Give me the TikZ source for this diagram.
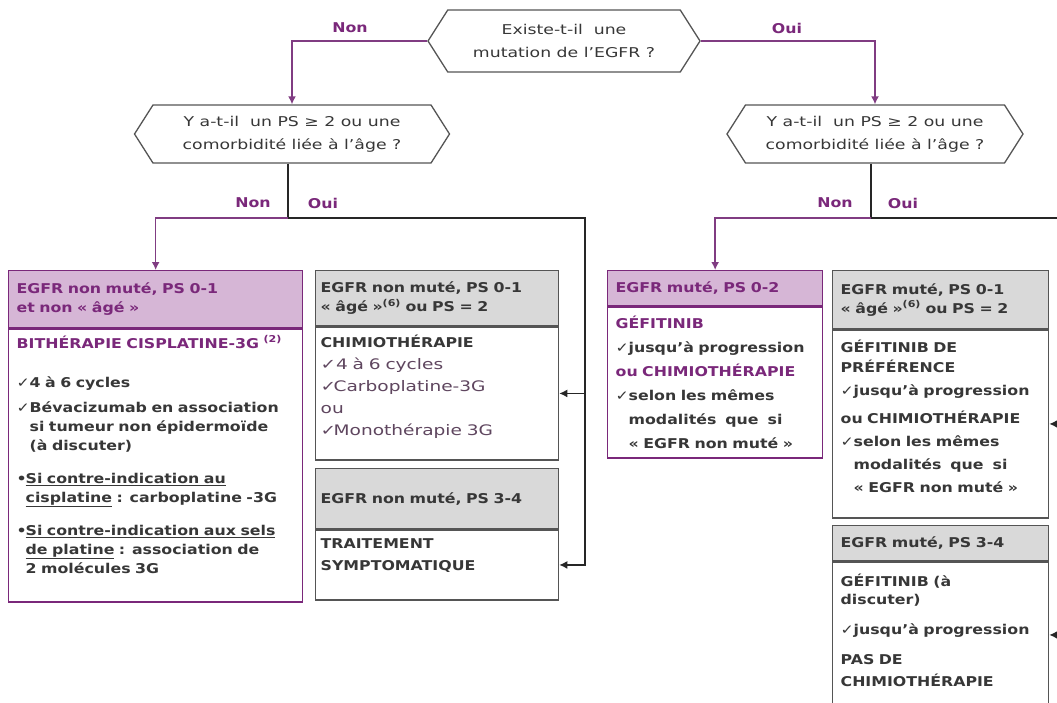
\documentclass[tikz,border=0pt]{standalone}
\usepackage{fontspec}
\setmainfont{DejaVu Sans}[FakeStretch=1.28, BoldFeatures={FakeStretch=1.17}]
\usetikzlibrary{shapes.symbols,arrows.meta}

\definecolor{mauve}{RGB}{122,40,122}
\definecolor{mauvefill}{RGB}{214,182,214}
\definecolor{lilac}{RGB}{128,60,130}
\definecolor{greyfill}{RGB}{217,217,217}
\definecolor{ink}{RGB}{55,55,55}
\definecolor{edge}{RGB}{85,85,85}
\definecolor{plumgrey}{RGB}{95,70,95}

\newcommand{\boxfont}{\fontsize{13.5}{19}\selectfont}
\newcommand{\chk}{\makebox[13pt][l]{✓}}
\newcommand{\chkind}{\hspace*{13pt}}
\newcommand{\bul}{\makebox[9pt][l]{•}}
\newcommand{\bulind}{\hspace*{9pt}}

\tikzset{
  question/.style={signal, signal to=west and east, signal pointer angle=115,
    draw=edge, line width=1.3pt, fill=white, text=ink, align=center,
    font=\fontsize{13.5}{23}\selectfont, inner sep=1pt},
  box/.style={rectangle, anchor=north west, line width=1.3pt, inner ysep=2pt,
    inner xsep=8pt, align=left},
  mauvehead/.style={box, draw=mauve, fill=mauvefill, text=mauve, font=\boxfont\bfseries},
  mauvebody/.style={box, draw=mauve, fill=white, text=ink, font=\boxfont\bfseries},
  greyhead/.style={box, draw=edge, fill=greyfill, text=ink, font=\boxfont\bfseries},
  greybody/.style={box, draw=edge, fill=white, text=ink, font=\boxfont\bfseries},
  nonpath/.style={draw=lilac, line width=1.6pt, -{Latex[length=8pt,width=8pt]}},
  ouipath/.style={draw=black!85, line width=1.4pt, -{Latex[length=8pt,width=8pt]}},
  stem/.style={draw=black!85, line width=1.4pt},
  lab/.style={text=mauve, font=\fontsize{13.5}{16}\selectfont\bfseries}
}

\begin{document}
\begin{tikzpicture}[x=1pt,y=-1pt]
\clip (0,0) rectangle (1057,702);
\fill[white] (0,0) rectangle (1057,702);

% questions
\node[question, minimum width=272pt, minimum height=62pt] (q0) at (564,41)
  {Existe-t-il\ \ une\\ mutation de l’EGFR ?};
\node[question, minimum width=315pt, minimum height=58pt] (qL) at (292,134)
  {Y a-t-il\ \ un PS ≥ 2 ou une\\ comorbidité liée à l’âge ?};
\node[question, minimum width=296pt, minimum height=58pt] (qR) at (875,134)
  {Y a-t-il\ \ un PS ≥ 2 ou une\\ comorbidité liée à l’âge ?};

% EGFR non mute
\node[mauvehead, text width=278pt, minimum height=57pt] (a1h) at (8,270)
  {EGFR non muté, PS 0-1\\ et non «~âgé~»};
\node[mauvebody, text width=278pt, minimum height=273pt] (a1b) at (a1h.south west)
  {{\color{mauve}BITHÉRAPIE CISPLATINE-3G \textsuperscript{(2)}}\\[20pt]
   \chk 4 à 6 cycles\\[6pt]
   \chk Bévacizumab en association\\
   \chkind si tumeur non épidermoïde\\
   \chkind (à discuter)\\[14pt]
   \bul\underline{Si contre-indication au}\\
   \bulind\underline{cisplatine} : carboplatine -3G\\[14pt]
   \bul\underline{Si contre-indication aux sels}\\
   \bulind\underline{de platine} : association de\\
   \bulind 2 molécules 3G\\[3pt]\mbox{}};

\node[greyhead, inner xsep=5pt, text width=233pt, minimum height=55pt] (a2h) at (315,270)
  {EGFR non muté, PS 0-1\\ «~âgé~»\textsuperscript{(6)} ou PS = 2};
\node[greybody, inner xsep=5pt, text width=233pt, minimum height=133pt,
  font=\fontsize{14.5}{22}\selectfont, text=plumgrey] (a2b) at (a2h.south west)
  {{\fontsize{13.5}{22}\selectfont\bfseries\color{ink}CHIMIOTHÉRAPIE}\\
   \chk\,4 à 6 cycles\\
   \chk Carboplatine-3G\\
   ou\\
   \chk Monothérapie 3G\\[-5pt]\mbox{}};

\node[greyhead, inner xsep=5pt, text width=233pt, minimum height=60pt] (a3h) at (315,468)
  {EGFR non muté, PS 3-4};
\node[greybody, inner xsep=5pt, text width=233pt, minimum height=70pt,
  font=\fontsize{13.5}{22}\selectfont\bfseries] (a3b) at (a3h.south west)
  {TRAITEMENT\\ SYMPTOMATIQUE\\[-2pt]\mbox{}};

% EGFR mute
\node[mauvehead, text width=199pt, minimum height=35pt] (m1h) at (607,270)
  {EGFR muté, PS 0-2};
\node[mauvebody, text width=199pt, minimum height=151pt,
  font=\fontsize{13.5}{24}\selectfont\bfseries] (m1b) at (m1h.south west)
  {{\color{mauve}GÉFITINIB}\\
   \chk jusqu’à progression\\
   {\color{mauve}ou CHIMIOTHÉRAPIE}\\
   \chk selon les mêmes\\
   \chkind modalités\ \ que\ \ si\\
   \chkind «~EGFR non muté~»};

\node[greyhead, text width=200pt, minimum height=58pt] (m2h) at (832,270)
  {EGFR muté, PS 0-1\\ «~âgé~»\textsuperscript{(6)} ou PS = 2};
\node[greybody, text width=200pt, minimum height=188pt,
  font=\fontsize{13.5}{23}\selectfont\bfseries] (m2b) at (m2h.south west)
  {GÉFITINIB DE\\[-3pt]
   PRÉFÉRENCE\\
   \chk jusqu’à progression\\[5pt]
   ou CHIMIOTHÉRAPIE\\
   \chk selon les mêmes\\
   \chkind modalités\ \ que\ \ si\\
   \chkind «~EGFR non muté~»\\[-8pt]\mbox{}};

\node[greyhead, text width=200pt, minimum height=35pt] (m3h) at (832,525)
  {EGFR muté, PS 3-4};
\node[greybody, text width=200pt, minimum height=146pt,
  font=\fontsize{13.5}{20}\selectfont\bfseries] (m3b) at (m3h.south west)
  {GÉFITINIB (à\\[-2pt] discuter)\\[10pt]
   \chk jusqu’à progression\\[10pt]
   PAS DE\\[2pt]
   CHIMIOTHÉRAPIE\\[-10pt]\mbox{}};

% connectors
\draw[nonpath] (q0.west) -| (qL.north);
\draw[nonpath] (q0.east) -| (qR.north);
\node[lab] (non0) at (350,28) {Non};
\node[lab] (oui0) at (787,28) {Oui};

\coordinate (jL) at (288,218);
\coordinate (sL) at (585,218);
\draw[stem] (jL |- qL.south) -- (jL);
\draw[nonpath] (jL) -| (a1h.north);
\draw[ouipath] (jL) -- (sL) |- (a3b.east);
\draw[ouipath] (sL |- a2b.east) -- (a2b.east);
\node[lab] (non1) at (253,203) {Non};
\node[lab] (oui1) at (323,203) {Oui};

\coordinate (jR) at (871,218);
\coordinate (sR) at (1066,218);
\draw[stem] (jR |- qR.south) -- (jR);
\draw[nonpath] (jR) -| (m1h.north);
\draw[ouipath] (jR) -- (sR) |- (m3b.east);
\draw[ouipath] (sR |- m2b.east) -- (m2b.east);
\node[lab] (non2) at (835,203) {Non};
\node[lab] (oui2) at (903,203) {Oui};
\end{tikzpicture}
\end{document}
